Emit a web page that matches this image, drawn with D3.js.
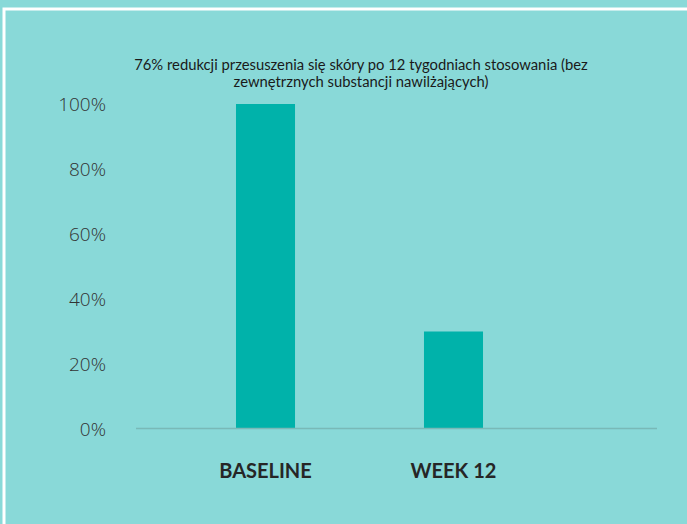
<!DOCTYPE html>
<html>
<head>
<meta charset="utf-8">
<script src="https://cdn.jsdelivr.net/npm/d3@7"></script>
<style>
  html, body { margin: 0; padding: 0; background: #89d9d8; }
  svg { display: block; }
</style>
</head>
<body>
<div id="chart"></div>
<script>
// chart data
var categories = ["BASELINE", "WEEK 12"];
var values = [100, 30];
var yTicks = [0, 20, 40, 60, 80, 100];
var titleLines = [
    "76% redukcji przesuszenia się skóry po 12 tygodniach stosowania (bez",
    "zewnętrznych substancji nawilżających)"
];

var width = 687;
var height = 524;

var svg = d3.select('#chart')
    .append('svg')
    .attr('width', width)
    .attr('height', height);

svg.append('rect')
    .attr('width', width)
    .attr('height', height)
    .attr('fill', '#89d9d8');

// white frame (top and left edge only visible)
svg.append('path')
    .attr('d', 'M4,' + height + 'V9H' + width)
    .attr('fill', 'none')
    .attr('stroke', '#ffffff')
    .attr('stroke-width', 3);

var x = d3.scaleBand()
    .domain(categories)
    .range([142, 577])
    .paddingInner(0.686)
    .paddingOuter(0.5);

var y = d3.scaleLinear()
    .domain([0, 100])
    .range([429, 104]);

// title
svg.append('g')
    .selectAll('text')
    .data(titleLines)
    .enter()
    .append('text')
    .attr('x', 361)
    .attr('y', function (d, i) { return 70 + i * 17; })
    .attr('text-anchor', 'middle')
    .style('font-family', 'Lato, "Open Sans", sans-serif')
    .style('font-size', '14.8px')
    .attr('fill', '#1a1a1a')
    .text(function (d) { return d; });

// y axis labels
var yAxis = d3.axisLeft(y)
    .tickValues(yTicks)
    .tickSize(0)
    .tickPadding(0)
    .tickFormat(function (d) { return d + '%'; });

var yg = svg.append('g')
    .attr('transform', 'translate(106,0)')
    .call(yAxis);
yg.select('.domain').remove();
yg.selectAll('text')
    .style('font-family', '"Open Sans", Lato, sans-serif')
    .style('font-weight', '300')
    .style('font-size', '19px')
    .attr('fill', '#333333');

// bars
svg.append('g')
    .selectAll('rect')
    .data(values)
    .enter()
    .append('rect')
    .attr('x', function (d, i) { return x(categories[i]); })
    .attr('y', function (d) { return y(d); })
    .attr('width', x.bandwidth())
    .attr('height', function (d) { return y(0) - y(d); })
    .attr('fill', '#00b2aa');

// baseline
svg.append('line')
    .attr('x1', 136)
    .attr('x2', 657)
    .attr('y1', y(0) - 0.5)
    .attr('y2', y(0) - 0.5)
    .attr('stroke', '#79b9b7')
    .attr('stroke-width', 1.5);

// category labels
var xAxis = d3.axisBottom(x)
    .tickSize(0)
    .tickPadding(0);

var xg = svg.append('g')
    .attr('transform', 'translate(0,464)')
    .call(xAxis);
xg.select('.domain').remove();
xg.selectAll('text')
    .attr('dy', '0.71em')
    .style('font-family', 'Lato, sans-serif')
    .style('font-weight', '700')
    .style('font-size', '20px')
    .attr('fill', '#262626');
</script>
</body>
</html>
